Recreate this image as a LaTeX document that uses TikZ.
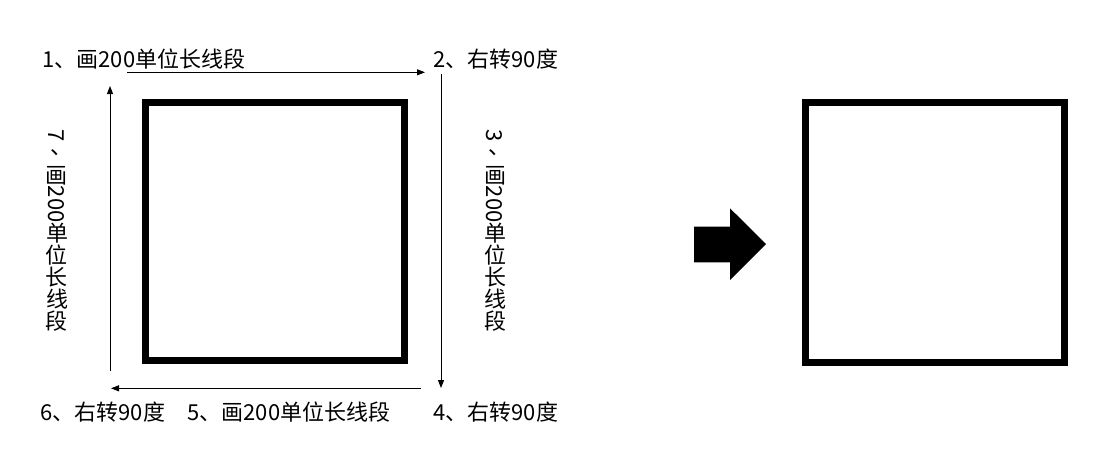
\documentclass[tikz,border=0pt]{standalone}
\usepackage{graphicx}
\usepackage{fontspec}
\setmainfont{Noto Sans CJK SC}
\usetikzlibrary{arrows.meta}
\newcommand{\up}[1]{\rotatebox[origin=c]{90}{\makebox[1em]{\rule[-0.12em]{0pt}{1em}#1}}}
\newcommand{\vcomma}{\rotatebox[origin=c]{90}{\makebox[1em][l]{\rule[-0.12em]{0pt}{1em}\hspace*{0.2em}\raisebox{0.3em}{、}}}}
\tikzset{every picture/.style={line width=0.75pt},
	txt/.style={font=\fontsize{16.5}{20}\selectfont, inner sep=0pt},
	vtxt/.style={txt, rotate=-90},
	turtlearrow/.style={-{Triangle[length=6pt,width=4.5pt]}},
	sqbox/.style={line width=5.25pt}}

\begin{document}
\begin{tikzpicture}[x=0.75pt,y=0.75pt,yscale=-1,xscale=1]
	\useasboundingbox (0,0) rectangle (1102,469);

	%Shape: Square
	\draw [sqbox] (145,102.5) rectangle (404.7,360.5) ;
	%Shape: Square
	\draw [sqbox] (805.3,102) rectangle (1064.7,362) ;

	%Shape: Right Arrow
	\fill (694,226.7) -- (730,226.7) -- (730,208.3) -- (766,244) -- (730,280) -- (730,262.3) -- (694,262.3) -- cycle ;

	% Arrow ends
	\coordinate (t1) at (127,72.3) ;
	\coordinate (t2) at (425,72.3) ;
	\coordinate (r1) at (441,74) ;
	\coordinate (r2) at (441,388) ;
	\coordinate (b1) at (420.7,388.3) ;
	\coordinate (b2) at (111,388.3) ;
	\coordinate (l1) at (110,370.7) ;
	\coordinate (l2) at (110,86) ;

	%Straight Lines
	\draw [turtlearrow] (t1) -- (t2) ;
	%Straight Lines
	\draw [turtlearrow] (r1) -- (r2) ;
	%Straight Lines
	\draw [turtlearrow] (b1) -- (b2) ;
	%Straight Lines
	\draw [turtlearrow] (l1) -- (l2) ;

	% Text Node
	\node [txt, anchor=west] (s1) at (42,59) {1、画200单位长线段};
	% Text Node
	\node [txt, anchor=west] (s2) at (433,59) {2、右转90度};
	% Text Node
	\node [vtxt] (s3) at (495,231) {3\vcomma\up{画}200\up{单}\up{位}\up{长}\up{线}\up{段}};
	% Text Node
	\node [txt, anchor=west] (s4) at (433,412) {4、右转90度};
	% Text Node
	\node [txt, anchor=west] (s5) at (187,412) {5、画200单位长线段};
	% Text Node
	\node [txt, anchor=west] (s6) at (40,412) {6、右转90度};
	% Text Node
	\node [vtxt] (s7) at (57,231) {7\vcomma\up{画}200\up{单}\up{位}\up{长}\up{线}\up{段}};

\end{tikzpicture}
\end{document}
